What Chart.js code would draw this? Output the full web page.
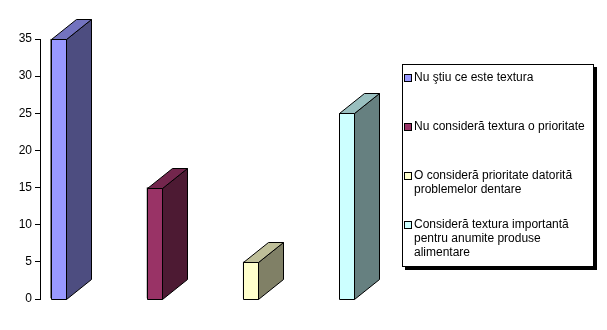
<!DOCTYPE html>
<html>
<head>
<meta charset="utf-8">
<script src="https://cdn.jsdelivr.net/npm/chart.js@4"></script>
<style>
  html, body { margin: 0; padding: 0; background: #fff; }
  #wrap { position: relative; width: 607px; height: 330px; }
  #legenda {
    position: absolute; left: 402px; top: 64px; width: 190px; height: 196px;
    border: 1px solid #000; box-shadow: 3px 3px 0 #000; background: #fff;
    font: 12px "Liberation Sans", Arial, sans-serif; color: #000;
    box-sizing: content-box; padding-top: 5px;
  }
  .item { display: flex; align-items: flex-start; line-height: 14px; height: 49px; }
  .sq { width: 6px; height: 6px; border: 1px solid #000; margin: 4px 2px 0 1px; flex: none; }
</style>
</head>
<body>
<div id="wrap">
  <canvas id="c" width="607" height="330"></canvas>
  <div id="legenda"></div>
</div>
<script>
// date
const CATEGORII = [
  ['Nu ştiu ce este textura'],
  ['Nu consideră textura o prioritate'],
  ['O consideră prioritate datorită', 'problemelor dentare'],
  ['Consideră textura importantă', 'pentru anumite produse', 'alimentare'],
];
const VALORI = [35, 15, 5, 25];
const Y_TICKS = [0, 5, 10, 15, 20, 25, 30, 35];

// culori: fata, lateral, sus
const CULORI_FATA = ['#9999FF', '#993366', '#FFFFCC', '#CCFFFF'];
const CULORI_LATERAL = ['#4D4D80', '#4D1A33', '#808066', '#668080'];
const CULORI_SUS = ['#7373BF', '#73264D', '#BFBF99', '#99BFBF'];

const SHIFT = -30, DX = 25, DY = 20;

/* ---------- legenda HTML ---------- */
const leg = document.getElementById('legenda');
CATEGORII.forEach((linii, i) => {
  const it = document.createElement('div');
  it.className = 'item';
  it.innerHTML = `<span class="sq" style="background:${CULORI_FATA[i]}"></span><span>${linii.join('<br>')}</span>`;
  leg.appendChild(it);
});

/* ---------- bare 3D ---------- */
const bare3d = {
  id: 'bare3d',
  beforeDatasetsDraw(chart) {
    chart.ctx.save();
    chart.ctx.translate(SHIFT, 0);
  },
  afterDatasetsDraw(chart) {
    const ctx = chart.ctx;
    const meta = chart.getDatasetMeta(0);
    ctx.lineWidth = 1;
    ctx.strokeStyle = '#000';
    meta.data.forEach((bar, i) => {
      const p = bar.getProps(['x', 'y', 'base', 'width'], true);
      const l = Math.round(p.x - p.width / 2) + 0.5, r = Math.round(p.x + p.width / 2) + 0.5;
      const t = Math.round(p.y) + 0.5, b = Math.round(p.base) + 0.5;
      // lateral
      ctx.beginPath();
      ctx.moveTo(r, t); ctx.lineTo(r + DX, t - DY); ctx.lineTo(r + DX, b - DY); ctx.lineTo(r, b); ctx.closePath();
      ctx.fillStyle = CULORI_LATERAL[i]; ctx.fill(); ctx.stroke();
      // sus
      ctx.beginPath();
      ctx.moveTo(l, t); ctx.lineTo(l + DX, t - DY); ctx.lineTo(r + DX, t - DY); ctx.lineTo(r, t); ctx.closePath();
      ctx.fillStyle = CULORI_SUS[i]; ctx.fill(); ctx.stroke();
      // fata
      ctx.beginPath();
      ctx.rect(l, t, r - l, b - t);
      ctx.fillStyle = CULORI_FATA[i]; ctx.fill(); ctx.stroke();
    });
    ctx.restore();
  },
};

new Chart(document.getElementById('c'), {
  type: 'bar',
  data: {
    labels: CATEGORII.map(c => c.join(' ')),
    datasets: [{
      data: VALORI,
      backgroundColor: CULORI_FATA,
      borderColor: '#000', borderWidth: 1,
      barThickness: 15, clip: false,
    }],
  },
  options: {
    responsive: false, animation: false,
    layout: { padding: { top: 39, bottom: 31, left: 0, right: 182 } },
    plugins: { legend: { display: false }, tooltip: { enabled: false } },
    scales: {
      x: { display: false },
      y: {
        min: 0, max: 35,
        afterFit: s => { s.width = 40; },
        afterBuildTicks: s => { s.ticks = Y_TICKS.map(v => ({ value: v })); },
        border: { display: true, color: '#000', width: 1 },
        grid: { drawOnChartArea: false, drawTicks: true, tickLength: 5, color: '#000' },
        ticks: { color: '#000', padding: 3, font: { family: "'Liberation Sans', Arial, sans-serif", size: 12 } },
      },
    },
  },
  plugins: [bare3d],
});
</script>
</body>
</html>
